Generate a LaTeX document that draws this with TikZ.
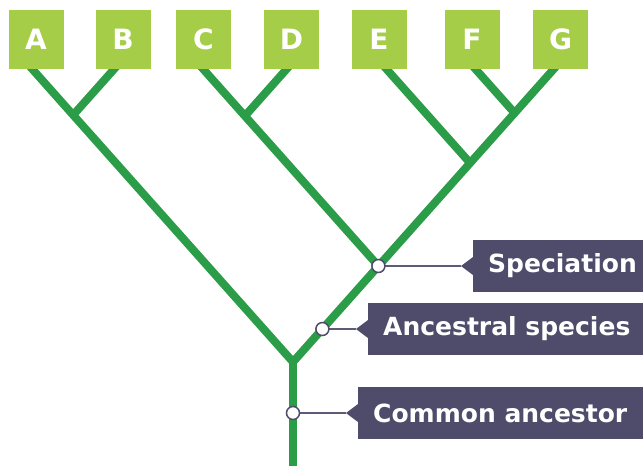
\documentclass[tikz,border=0pt]{standalone}
\usepackage{fontspec}
\setmainfont{DejaVu Sans}
\definecolor{treegreen}{HTML}{2B9C48}
\definecolor{boxgreen}{HTML}{A5CD48}
\definecolor{tagslate}{HTML}{4E4B6B}
\definecolor{leadergray}{HTML}{5E5B77}
\begin{document}
\begin{tikzpicture}[x=1pt,y=-1pt,
  branch/.style={draw=treegreen, line width=8pt},
  taxon/.style={fill=boxgreen, minimum width=55pt, minimum height=59pt, inner sep=0pt,
    text=white, font=\fontsize{28}{28}\selectfont\bfseries},
  tagbox/.style={fill=tagslate, minimum height=52pt, inner sep=0pt, anchor=west},
  tagtext/.style={text=white, inner sep=0pt, anchor=west, font=\fontsize{25}{25}\selectfont\bfseries},
  leader/.style={draw=leadergray, line width=2pt},
  nodedot/.style={circle, fill=white, draw=tagslate, line width=1.5pt, minimum size=13pt, inner sep=0pt}
]
\useasboundingbox (0,0) rectangle (643,466);

% branch points of the tree
\coordinate (base) at (293,466);
\coordinate (R)    at (293,362);   % common ancestor split
\coordinate (S)    at (378.4,266); % speciation
\coordinate (AB)   at (73.2,115);
\coordinate (CD)   at (244.9,116);
\coordinate (J)    at (470.1,163);
\coordinate (FG)   at (514.6,113);
\coordinate (anc)  at (322.4,329);
\coordinate (com)  at (293,413);

% leaf ends (hidden under the boxes)
\coordinate (Ae) at (24.2,60);
\coordinate (Be) at (122.2,60);
\coordinate (Ce) at (195.1,60);
\coordinate (De) at (294.7,60);
\coordinate (Ee) at (378.4,60);
\coordinate (Fe) at (467.4,60);
\coordinate (Ge) at (561.8,60);

% tree
\draw[branch] (base) -- (R);
\draw[branch] (Ae) -- (R) -- (Ge);
\draw[branch] (AB) -- (Be);
\draw[branch] (S) -- (Ce);
\draw[branch] (CD) -- (De);
\draw[branch] (J) -- (Ee);
\draw[branch] (FG) -- (Fe);

% species boxes
\node[taxon] (A) at (36,39.5)    {A};
\node[taxon] (B) at (123,39.5)   {B};
\node[taxon] (C) at (203.5,39.5) {C};
\node[taxon] (D) at (291.5,39.5) {D};
\node[taxon] (E) at (379,39.5)   {E};
\node[taxon] (F) at (472,39.5)   {F};
\node[taxon] (G) at (560.5,39.5) {G};

% labels with pointers
\node[tagbox, minimum width=170pt] (specbox) at (473,266) {};
\node[tagtext] (spectext) at ([xshift=15pt]specbox.west) {Speciation};
\node[tagbox, minimum width=275pt] (ancbox) at (368,329) {};
\node[tagtext] (anctext) at ([xshift=15pt]ancbox.west) {Ancestral species};
\node[tagbox, minimum width=285pt] (combox) at (358,413) {};
\node[tagtext] (comtext) at ([xshift=15pt]combox.west) {Common ancestor};

\foreach \b in {specbox,ancbox,combox}{
  \fill[tagslate] ([yshift=-9pt]\b.west) -- ([xshift=-12pt]\b.west) -- ([yshift=9pt]\b.west) -- cycle;
  \coordinate (\b tip) at ([xshift=-12pt]\b.west);
}

\draw[leader] (S) -- (specboxtip);
\draw[leader] (anc) -- (ancboxtip);
\draw[leader] (com) -- (comboxtip);

\node[nodedot] (sdot) at (S) {};
\node[nodedot] (adot) at (anc) {};
\node[nodedot] (cdot) at (com) {};
\end{tikzpicture}
\end{document}
